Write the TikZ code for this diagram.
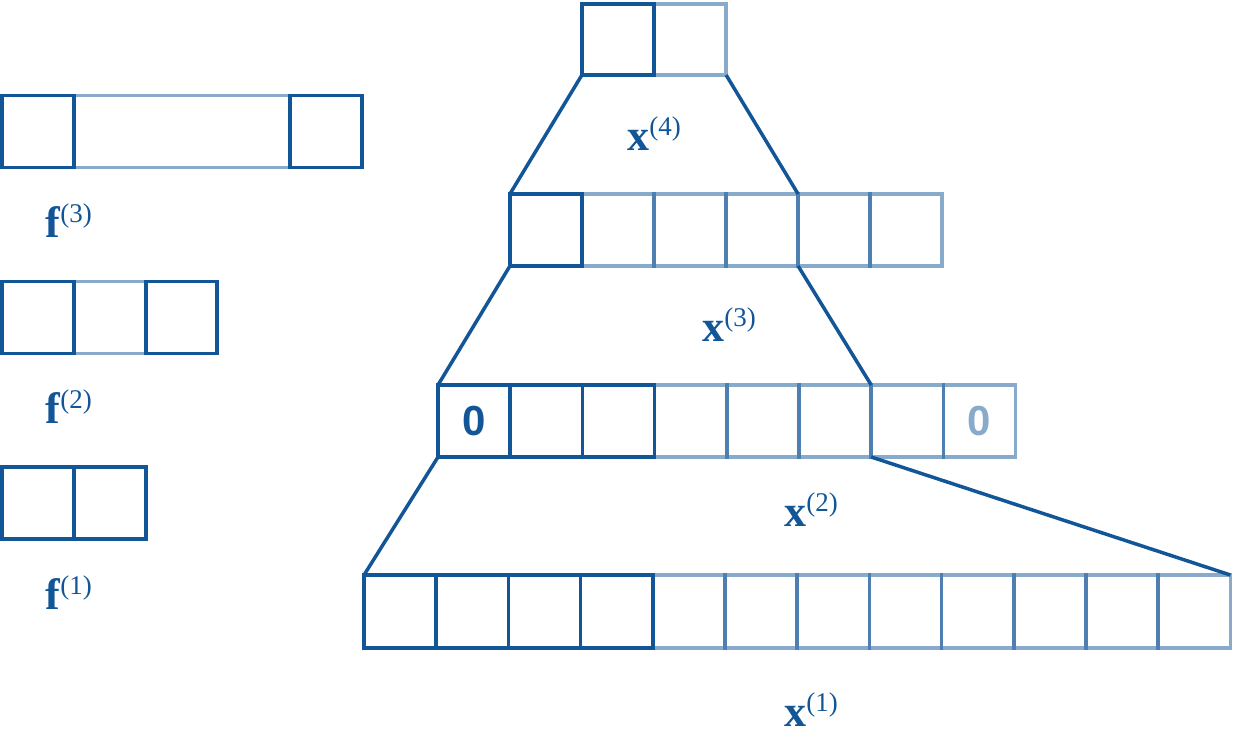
\documentclass[tikz,border=0pt]{standalone}
\usepackage{fontspec}
\setmainfont{Liberation Serif}
\newfontfamily\zerofont{Liberation Sans}
\definecolor{dkc}{RGB}{18,86,152}
\newcommand{\lab}[2]{\fontsize{22}{24}\selectfont\textbf{#1}\raisebox{7.5pt}{\fontsize{13.5}{14}\selectfont(#2)}}
\begin{document}
\begin{tikzpicture}[x=0.5pt,y=-0.5pt,
  cell/.style={draw=dkc, line width=1.75pt, minimum width=36.1pt, minimum height=36pt, inner sep=0pt, outer sep=0pt, text=dkc, font=\zerofont\bfseries\fontsize{21}{24}\selectfont},
  dkcell/.style={cell},
  ltcell/.style={cell, draw opacity=0.5, text opacity=0.5},
  trap/.style={draw=dkc, line width=1.75pt},
  lbl/.style={anchor=base west, inner sep=0pt, text=dkc}]
\useasboundingbox (0,0) rectangle (1234,746);
% ---- f filters ----
\node[ltcell, minimum width=108pt] (f3m) at (182,131.5) {};
\node[dkcell] (f3a) at (38,131.5) {};
\node[dkcell] (f3b) at (326,131.5) {};
\node[ltcell] (f2m) at (110,317.5) {};
\node[dkcell] (f2a) at (38,317.5) {};
\node[dkcell, minimum width=35.5pt] (f2b) at (181.5,317.5) {};
\node[dkcell] (f1a) at (38,503) {};
\node[dkcell] (f1b) at (110,503) {};
\node[lbl] (lf3) at (45,237) {\lab{f}{3}};
\node[lbl] (lf2) at (45,423) {\lab{f}{2}};
\node[lbl] (lf1) at (45,609) {\lab{f}{1}};
% ---- x(4) ----
\node[ltcell, minimum height=35.5pt] (x4c2) at (690,39.5) {};
\node[dkcell, minimum height=35.5pt] (x4c1) at (618,39.5) {};
% ---- x(3) ----
\foreach \i in {2,...,6} {
  \node[ltcell] (x3c\i) at ({510+72*(\i-0.5)},230) {};
}
\node[dkcell] (x3c1) at (546,230) {};
% ---- x(2) ----
\foreach \i in {4,...,7} {
  \node[ltcell] (x2c\i) at ({438+72.2*(\i-0.5)},421) {};
}
\node[ltcell] (x2c8) at ({438+72.2*7.5},421) {0};
\node[dkcell] (x2c1) at ({438+72.2*0.5},421) {0};
\foreach \i in {2,3} {
  \node[dkcell] (x2c\i) at ({438+72.2*(\i-0.5)},421) {};
}
% ---- x(1) ----
\foreach \i in {5,...,12} {
  \node[ltcell, minimum height=36.5pt] (x1c\i) at ({364+72.2*(\i-0.5)},611.5) {};
}
\foreach \i in {1,...,4} {
  \node[dkcell, minimum height=36.5pt] (x1c\i) at ({364+72.2*(\i-0.5)},611.5) {};
}
% ---- trapezoid connectors ----
\draw[trap] (x4c1.south west) -- (x3c1.north west);
\draw[trap] (x4c2.south east) -- (x3c4.north east);
\draw[trap] (x3c1.south west) -- (x2c1.north west);
\draw[trap] (x3c4.south east) -- (x2c6.north east);
\draw[trap] (x2c1.south west) -- (x1c1.north west);
\draw[trap] (x2c6.south east) -- (x1c12.north east);
% ---- labels ----
\node[lbl] (lx4) at (627,150) {\lab{x}{4}};
\node[lbl] (lx3) at (702,341) {\lab{x}{3}};
\node[lbl] (lx2) at (784,526) {\lab{x}{2}};
\node[lbl] (lx1) at (784,726) {\lab{x}{1}};
\end{tikzpicture}
\end{document}
